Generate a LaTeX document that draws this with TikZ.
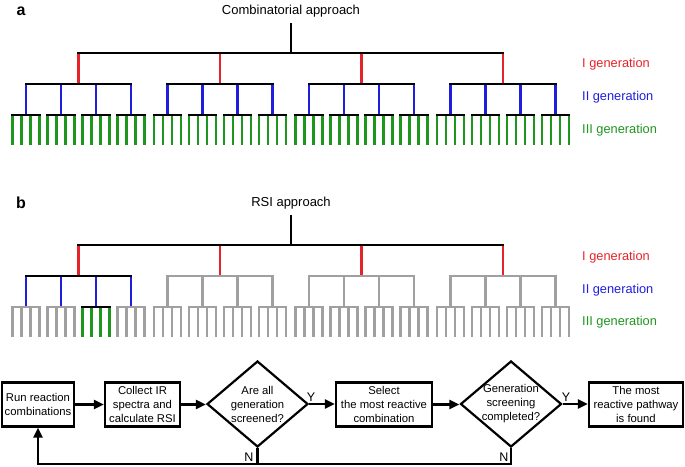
\documentclass[tikz,border=0pt]{standalone}
\usepackage{fontspec}
\setmainfont{Liberation Sans}
\usetikzlibrary{shapes.geometric,arrows.meta}
\definecolor{tred}{RGB}{228,36,40}
\definecolor{tblue}{RGB}{30,30,220}
\definecolor{tgreen}{RGB}{30,150,30}
\definecolor{tgray}{RGB}{160,160,160}
\begin{document}
\begin{tikzpicture}[x=1pt,y=-1pt,
  ln/.style={line width=2.2pt},
  hbar/.style={line width=2.2pt,line cap=rect},
  genlab/.style={anchor=west,inner sep=0pt,font=\fontsize{12.8}{14}\selectfont},
  title/.style={inner sep=0pt,font=\fontsize{13}{15}\selectfont},
  panel/.style={inner sep=0pt,font=\fontsize{16}{18}\selectfont\bfseries},
  box/.style={draw,line width=2.2pt,align=center,inner sep=1pt,minimum height=44pt,font=\fontsize{11.3}{14}\selectfont},
  dia/.style={draw,diamond,line width=2.2pt,inner sep=0pt,minimum width=101pt,minimum height=86pt},
  dtxt/.style={align=center,inner sep=0pt,font=\fontsize{11.3}{14}\selectfont},
  yn/.style={inner sep=0pt,font=\fontsize{12.5}{14}\selectfont},
  arr/.style={line width=2.2pt,-{Triangle[length=10pt,width=9pt]}}]
\useasboundingbox (0,0) rectangle (685,466);

% ---------- panel a ----------
\node[panel] (pa) at (21,11) {a};
\node[title] (ta) at (291,11) {Combinatorial approach};
\draw[ln] (290.75,23) -- (290.75,53);
\foreach \i in {0,...,3}{
  \pgfmathsetmacro\ci{78.5+141.5*\i}
  \draw[ln,tred] (\ci,53) -- (\ci,84);
  \foreach \j in {0,...,3}{
    \pgfmathsetmacro\dj{\ci+(\j-1.5)*35}
    \draw[ln,tblue] (\dj,84) -- (\dj,115);
    \foreach \k in {0,...,3}{
      \pgfmathsetmacro\ek{\dj+(\k-1.5)*9}
      \draw[ln,tgreen] (\ek,115) -- (\ek,145);
    }
    \draw[hbar] (\dj-13.5,115) -- (\dj+13.5,115);
  }
  \draw[hbar] (\ci-52.5,84) -- (\ci+52.5,84);
}
\draw[hbar] (78.5,53) -- (503,53);
\node[genlab,tred] (la1) at (582,64) {I generation};
\node[genlab,tblue] (la2) at (582,97) {II generation};
\node[genlab,tgreen] (la3) at (582,130) {III generation};

% ---------- panel b ----------
\node[panel] (pb) at (21,203) {b};
\node[title] (tb) at (291,203) {RSI approach};
\draw[ln] (290.75,215) -- (290.75,245);
\foreach \i in {0,...,3}{
  \pgfmathsetmacro\ci{78.5+141.5*\i}
  \ifnum\i=0 \def\vcol{tblue}\def\bcol{black}\else\def\vcol{tgray}\def\bcol{tgray}\fi
  \draw[ln,tred] (\ci,245) -- (\ci,276);
  \foreach \j in {0,...,3}{
    \pgfmathsetmacro\dj{\ci+(\j-1.5)*35}
    \def\lcol{tgray}\def\lbcol{tgray}
    \ifnum\i=0 \ifnum\j=2 \def\lcol{tgreen}\def\lbcol{black}\fi\fi
    \draw[ln,draw=\vcol] (\dj,276) -- (\dj,307);
    \foreach \k in {0,...,3}{
      \pgfmathsetmacro\ek{\dj+(\k-1.5)*9}
      \draw[ln,draw=\lcol] (\ek,307) -- (\ek,337);
    }
    \draw[hbar,draw=\lbcol] (\dj-13.5,307) -- (\dj+13.5,307);
  }
  \draw[hbar,draw=\bcol] (\ci-52.5,276) -- (\ci+52.5,276);
}
\draw[hbar] (78.5,245) -- (503,245);
\node[genlab,tred] (lb1) at (582,257) {I generation};
\node[genlab,tblue] (lb2) at (582,290) {II generation};
\node[genlab,tgreen] (lb3) at (582,322) {III generation};

% ---------- flowchart ----------
\node[box,minimum width=72pt] (b1) at (38,404.5) {Run reaction\\combinations};
\node[box,minimum width=75pt] (b2) at (142.5,404.5) {Collect IR\\spectra and\\calculate RSI};
\node[dia,label={[dtxt]center:Are all\\generation\\screened?}] (d1) at (257.5,404) {};
\node[box,minimum width=96pt] (b3) at (384,404.5) {Select\\the most reactive\\combination};
\node[dia,label={[dtxt]center:Generation\\screening\\completed?}] (d2) at (511,404) {};
\node[box,minimum width=94pt] (b4) at (636,404.5) {The most\\reactive pathway\\is found};

\draw[arr] (b1.east) -- (b2.west);
\draw[arr] (b2.east) -- (b2.east -| d1.west);
\draw[arr] (d1.east) -- (d1.east -| b3.west);
\draw[arr] (b3.east) -- (b3.east -| d2.west);
\draw[arr] (d2.east) -- (d2.east -| b4.west);
\coordinate (lp) at (511,464);
\draw[arr] (d2.south) -- (lp) -- (lp -| b1.south) -- (b1.south);
\draw[line width=2.2pt] (d1.south) -- (d1.south |- lp);
\node[yn] (y1) at (311,397) {Y};
\node[yn] (y2) at (566,397) {Y};
\node[yn] (n1) at (249,457) {N};
\node[yn] (n2) at (504,457) {N};
\end{tikzpicture}
\end{document}
